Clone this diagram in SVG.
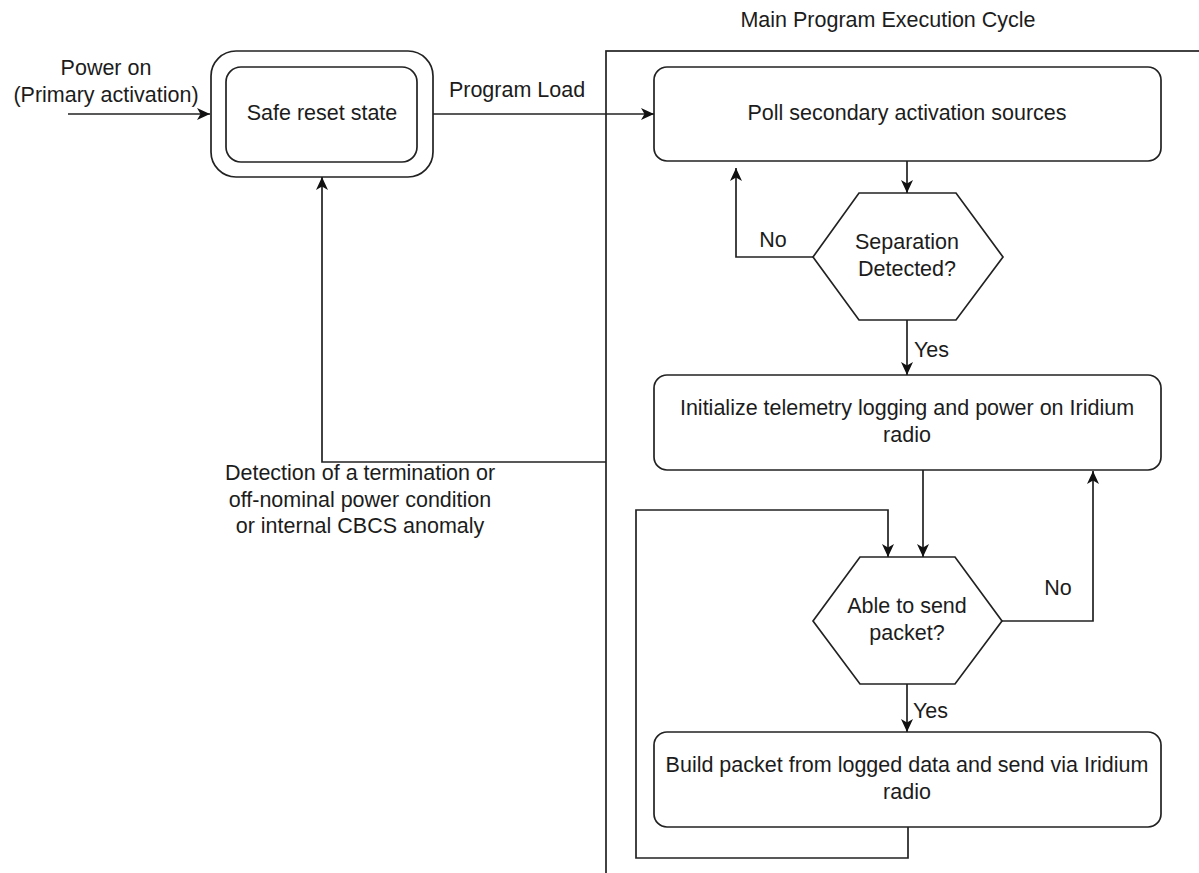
<svg xmlns="http://www.w3.org/2000/svg" width="1199" height="873" viewBox="0 0 1199 873">
<style>
.s{fill:#fff;stroke:#222;stroke-width:1.7}
.c{fill:none;stroke:#222;stroke-width:1.7}
text{font-family:"Liberation Sans",Arial,sans-serif;font-size:21.5px;fill:#1c1c1c}
.m{text-anchor:middle}
</style>
<defs>
<marker id="a" markerUnits="userSpaceOnUse" markerWidth="14" markerHeight="12" refX="13" refY="6" orient="auto">
<path d="M0,0 L13,6 L0,12 L3.5,6 z" fill="#111"/>
</marker>
</defs>
<rect width="1199" height="873" fill="#fff"/>
<g id="container">
<rect x="606" y="51" width="700" height="900" class="s" fill="none"/>
<text x="888" y="27" class="m">Main Program Execution Cycle</text>
</g>
<g id="power-label">
<text x="106" y="75" class="m">Power on</text>
<text x="106" y="102" class="m">(Primary activation)</text>
</g>
<g id="safe-reset">
<rect x="211" y="51" width="222" height="126" rx="25" class="s"/>
<rect x="226" y="67" width="191" height="95" rx="15" class="s"/>
<text x="322" y="120" class="m">Safe reset state</text>
</g>
<g id="poll">
<rect x="654" y="67" width="507" height="94" rx="13" class="s"/>
<text x="907" y="120" class="m">Poll secondary activation sources</text>
</g>
<g id="sep">
<polygon points="859,193 956,193 1003,257 956,320 859,320 813,257" class="s"/>
<text x="907" y="249" class="m">Separation</text>
<text x="907" y="276" class="m">Detected?</text>
</g>
<g id="init">
<rect x="654" y="375" width="507" height="95" rx="13" class="s"/>
<text x="907" y="415" class="m">Initialize telemetry logging and power on Iridium</text>
<text x="907" y="442" class="m">radio</text>
</g>
<g id="able">
<polygon points="860,557 955,557 1002,621 955,684 860,684 813,621" class="s"/>
<text x="907" y="613" class="m">Able to send</text>
<text x="907" y="640" class="m">packet?</text>
</g>
<g id="build">
<rect x="654" y="732" width="507" height="95" rx="13" class="s"/>
<text x="907" y="772" class="m">Build packet from logged data and send via Iridium</text>
<text x="907" y="799" class="m">radio</text>
</g>
<g id="connectors">
<path d="M68,114 H210" class="c" marker-end="url(#a)"/>
<path d="M433,114 H654" class="c" marker-end="url(#a)"/>
<path d="M907,161 V193" class="c" marker-end="url(#a)"/>
<path d="M813,257 H736 V168" class="c" marker-end="url(#a)"/>
<path d="M907,320 V375" class="c" marker-end="url(#a)"/>
<path d="M923,470 V557" class="c" marker-end="url(#a)"/>
<path d="M1002,621 H1093 V471" class="c" marker-end="url(#a)"/>
<path d="M907,684 V732" class="c" marker-end="url(#a)"/>
<path d="M908,827 V858 H636 V510 H888 V557" class="c" marker-end="url(#a)"/>
<path d="M606,462 H322 V177" class="c" marker-end="url(#a)"/>
<text x="517" y="97" class="m">Program Load</text>
<text x="773" y="247" class="m">No</text>
<text x="914" y="357">Yes</text>
<text x="1058" y="595" class="m">No</text>
<text x="913" y="718">Yes</text>
<text x="360" y="480" class="m">Detection of a termination or</text>
<text x="360" y="507" class="m">off-nominal power condition</text>
<text x="360" y="533" class="m">or internal CBCS anomaly</text>
</g>
</svg>
